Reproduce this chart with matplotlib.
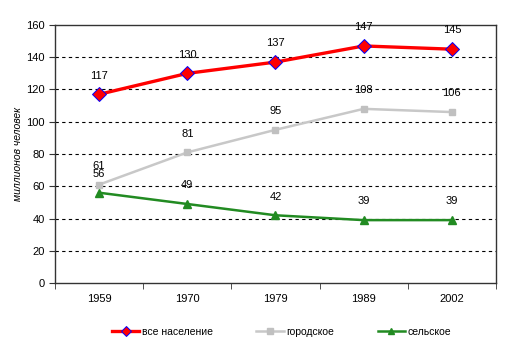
import matplotlib
matplotlib.use('Agg')
import matplotlib.pyplot as plt

plt.rcParams['font.family'] = ['Liberation Sans', 'DejaVu Sans']

# Data
years = ['1959', '1970', '1979', '1989', '2002']
total = [117, 130, 137, 147, 145]
urban = [61, 81, 95, 108, 106]
rural = [56, 49, 42, 39, 39]

fig = plt.figure(figsize=(5.11, 3.51), dpi=100)
ax = fig.add_axes([0.1076, 0.1937, 0.863, 0.7351])

x = list(range(len(years)))

ax.plot(x, total, color='#ff0000', lw=2.4, marker='D', ms=7,
        mfc='#ff0000', mec='#0000ff', mew=0.7, label='все население', zorder=5)
ax.plot(x, urban, color='#c8c8c8', lw=1.8, marker='s', ms=5,
        mfc='#c0c0c0', mec='#c0c0c0', label='городское', zorder=4)
ax.plot(x, rural, color='#228b22', lw=1.8, marker='^', ms=6,
        mfc='#228b22', mec='#228b22', label='сельское', zorder=4)

for series in (total, urban, rural):
    for i, v in enumerate(series):
        ax.annotate(str(v), (i, v), xytext=(0, 13.5), textcoords='offset points',
                    ha='center', va='center', fontsize=8, color='black')

ax.set_xlim(-0.5, len(years) - 0.5)
ax.set_ylim(0, 160)
ax.set_yticks(range(0, 161, 20))
ax.set_xticks(x)
ax.set_xticklabels(years)
ax.set_xticks([i - 0.5 for i in range(len(years) + 1)], minor=True)
ax.tick_params(axis='x', which='major', length=0, pad=8, labelsize=8)
ax.tick_params(axis='x', which='minor', length=4, direction='out', color='#333333')
ax.tick_params(axis='y', length=4, direction='out', labelsize=8, color='#333333')

for yv in range(20, 160, 20):
    ax.axhline(yv, color='black', lw=0.8, ls=(0, (3, 3)), zorder=1)

for s in ax.spines.values():
    s.set_color('#333333')
    s.set_linewidth(1.0)

ax.set_ylabel('миллионов человек', fontsize=7.5, style='italic', labelpad=2)

leg = fig.legend(loc='center', bbox_to_anchor=(0.551, 0.055), ncol=3, frameon=False,
                 fontsize=7.5, handlelength=2.6, handletextpad=0.25, columnspacing=4.2,
                 markerscale=0.8)

fig.savefig('out.png', dpi=100)
